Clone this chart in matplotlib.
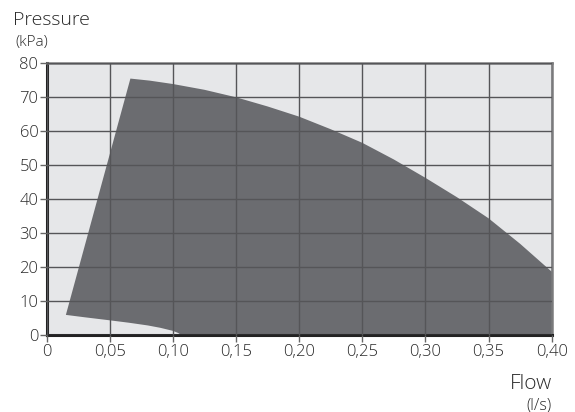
import matplotlib
matplotlib.use("Agg")
import matplotlib.pyplot as plt
import numpy as np

# ── Data: pump working area (flow l/s, pressure kPa) ─────────────────────
upper_flow = [0.0663, 0.0816, 0.10, 0.125, 0.15, 0.175, 0.20, 0.225,
              0.25, 0.275, 0.30, 0.325, 0.35, 0.375, 0.40]
upper_pres = [75.5, 74.9, 73.9, 72.2, 70.0, 67.3, 64.3, 60.6,
              56.6, 51.7, 46.3, 40.6, 34.4, 26.9, 18.7]
lower_flow = [0.107, 0.104, 0.10, 0.09, 0.08, 0.065, 0.05, 0.03, 0.0152]
lower_pres = [0.0, 0.7, 1.3, 2.2, 2.9, 3.7, 4.4, 5.3, 6.0]

x_ticks = [0, 0.05, 0.10, 0.15, 0.20, 0.25, 0.30, 0.35, 0.40]
x_labels = ["0", "0,05", "0,10", "0,15", "0,20", "0,25", "0,30", "0,35", "0,40"]
y_ticks = [0, 10, 20, 30, 40, 50, 60, 70, 80]

BG = "#e6e7e9"
FILL = "#6b6c70"
GRID = "#555558"
TXT = "#2a2a2a"

plt.rcParams["font.family"] = ["Open Sans", "DejaVu Sans"]
plt.rcParams["font.weight"] = "light"

fig = plt.figure(figsize=(5.75, 4.12), dpi=100)
ax = fig.add_axes([0.0812, 0.1862, 0.8783, 0.6602])
ax.set_facecolor(BG)

poly_x = upper_flow + [0.40] + lower_flow
poly_y = upper_pres + [0.0] + lower_pres
ax.fill(poly_x, poly_y, color=FILL, lw=0, zorder=1)

ax.set_xlim(0, 0.40)
ax.set_ylim(0, 80)
ax.set_xticks(x_ticks)
ax.set_xticklabels(x_labels)
ax.set_yticks(y_ticks)
ax.set_axisbelow(False)
ax.grid(True, color=GRID, lw=1.0)

for s in ["left", "bottom"]:
    ax.spines[s].set_color("#222222")
    ax.spines[s].set_linewidth(2.2)
for s in ["top", "right"]:
    ax.spines[s].set_color("#7a7a7c")
    ax.spines[s].set_linewidth(1.8)

ax.tick_params(axis="both", direction="out", length=5, width=1,
               color="#666666", labelsize=12, labelcolor=TXT, pad=1)

fig.text(13 / 575, 1 - 20 / 412, "Pressure", fontsize=14, color=TXT,
         ha="left", va="center")
fig.text(15 / 575, 1 - 42 / 412, "(kPa)", fontsize=11, color=TXT,
         ha="left", va="center")
fig.text(552 / 575, 1 - 384 / 412, "Flow", fontsize=15, color=TXT,
         ha="right", va="center")
fig.text(552 / 575, 1 - 405 / 412, "(l/s)", fontsize=11.5, color=TXT,
         ha="right", va="center")

fig.savefig("out.png", dpi=100, facecolor="white")
